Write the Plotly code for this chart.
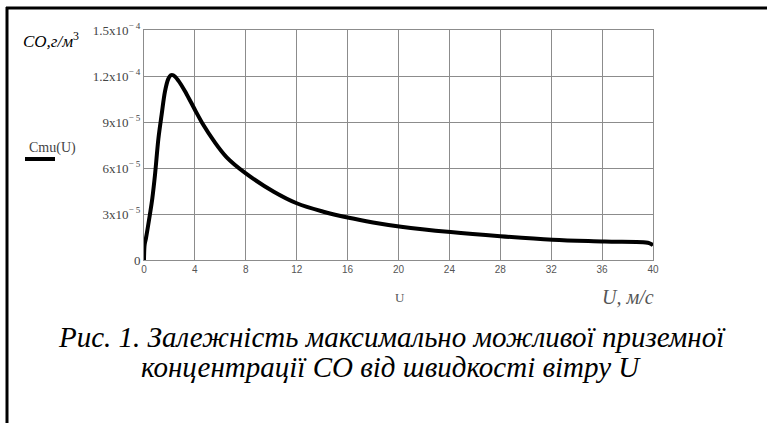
import plotly.graph_objects as go

# wind speed U, m/s
U = [0, 0.05, 0.15, 0.47, 0.65, 0.87, 1.13, 1.39, 1.65, 1.9, 2.1, 2.3, 2.7, 3.36, 4.0,
     4.67, 5.46, 6.5, 8.0, 10.2, 12.0, 14.1, 16.1, 18.0, 20.2, 24.1, 28.0, 32.1, 36.2, 39.7, 40]
# Cmu(U), units of 1e-5 g/m^3
C_e5 = [0, 1.0, 1.4, 3.0, 4.0, 5.6, 7.9, 9.5, 11.0, 11.8, 12.05, 12.05, 11.7, 10.8, 9.8,
        8.8, 7.8, 6.7, 5.65, 4.45, 3.7, 3.15, 2.75, 2.45, 2.17, 1.82, 1.55, 1.32, 1.2, 1.1, 0.95]
C = [v * 1e-5 for v in C_e5]

x_ticks = [0, 4, 8, 12, 16, 20, 24, 28, 32, 36, 40]
y_ticks = [0, 3e-5, 6e-5, 9e-5, 1.2e-4, 1.5e-4]
y_ticktext = ["0", "3x10<sup>− 5</sup>", "6x10<sup>− 5</sup>", "9x10<sup>− 5</sup>",
              "1.2x10<sup>− 4</sup>", "1.5x10<sup>− 4</sup>"]

W, H = 768, 423
L, R, T, B = 144, 653, 30, 260


def px(x):
    return (x - L) / (R - L)


def py(y):
    return (B - y) / (B - T)


fig = go.Figure()
fig.add_trace(go.Scatter(x=U, y=C, mode="lines", line=dict(color="black", width=4),
                         line_shape="spline", showlegend=False))

grid = "#8c8c8c"
fig.update_xaxes(range=[0, 40], tickvals=x_ticks, showgrid=True, gridcolor=grid, gridwidth=1,
                 showline=True, linecolor=grid, linewidth=1, mirror=True, zeroline=False,
                 ticks="", tickfont=dict(family="Liberation Sans", size=10, color="#555"),
                 fixedrange=True)
fig.update_yaxes(range=[0, 1.5e-4], tickvals=y_ticks, ticktext=y_ticktext, showgrid=True,
                 gridcolor=grid, gridwidth=1, showline=True, linecolor=grid, linewidth=1,
                 mirror=True, zeroline=False, ticks="",
                 tickfont=dict(family="Liberation Serif", size=13, color="#444"),
                 fixedrange=True)

serif = "Liberation Serif"
ann = [
    dict(x=px(21), y=py(40), text="<i>CO,г/м</i><sup>3</sup>", xanchor="left", yanchor="middle",
         font=dict(family=serif, size=17, color="black")),
    dict(x=px(27), y=py(148), text="Cmu(U)", xanchor="left", yanchor="middle",
         font=dict(family=serif, size=14, color="#444")),
    dict(x=px(400), y=py(297), text="U", xanchor="center", yanchor="middle",
         font=dict(family=serif, size=13, color="#555")),
    dict(x=px(656), y=py(297), text="<i>U, м/с</i>", xanchor="right", yanchor="middle",
         font=dict(family=serif, size=20, color="#555")),
    dict(x=px(392), y=py(337), text="<i>Рис. 1. Залежність максимально можливої приземної</i>",
         xanchor="center", yanchor="middle", font=dict(family=serif, size=29, color="black")),
    dict(x=px(391), y=py(367), text="<i>концентрації СО від швидкості вітру U</i>",
         xanchor="center", yanchor="middle", font=dict(family=serif, size=29, color="black")),
]
for a in ann:
    a.update(xref="paper", yref="paper", showarrow=False)

shapes = [
    # legend line
    dict(type="line", x0=px(25), x1=px(55), y0=py(159), y1=py(159),
         line=dict(color="black", width=4)),
    # frame: top and left
    dict(type="line", x0=px(6), x1=px(767), y0=py(8), y1=py(8),
         line=dict(color="black", width=3)),
    dict(type="line", x0=px(7), x1=px(7), y0=py(7), y1=py(423),
         line=dict(color="black", width=3)),
]
for s in shapes:
    s.update(xref="paper", yref="paper")

fig.update_layout(width=W, height=H, margin=dict(l=L, r=W - R, t=T, b=H - B),
                  paper_bgcolor="white", plot_bgcolor="white",
                  annotations=ann, shapes=shapes)

fig.write_html("out.html", config={"displayModeBar": False},
               post_script="document.body.style.margin='0';document.body.style.overflow='hidden';")
